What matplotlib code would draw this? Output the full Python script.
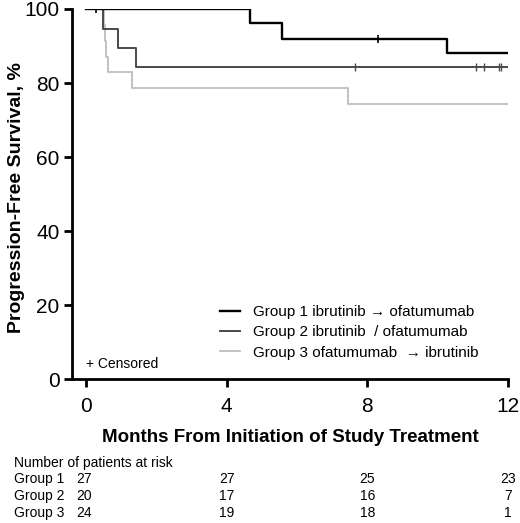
import matplotlib.pyplot as plt

plt.rcParams["font.family"] = ["Liberation Sans", "DejaVu Sans"]

# step curves: times of events and survival after each step (%)
g1_times = [0, 4.65, 5.57, 10.25, 12]
g1_surv = [100, 96.3, 92.0, 88.2, 88.2]
g1_cens_t = [0.27, 8.3]
g1_cens_s = [100, 92.0]

g2_times = [0, 0.47, 0.92, 1.42, 12]
g2_surv = [100, 94.5, 89.4, 84.3, 84.3]
g2_cens_t = [7.65, 11.1, 11.33, 11.73, 11.79]
g2_cens_s = [84.3, 84.3, 84.3, 84.3, 84.3]

g3_times = [0, 0.5, 0.53, 0.57, 0.62, 1.3, 7.46, 12]
g3_surv = [100, 95.8, 91.4, 87.0, 83.0, 78.6, 74.2, 74.2]

labels = ["Group 1 ibrutinib \u2192 ofatumumab",
          "Group 2 ibrutinib  / ofatumumab",
          "Group 3 ofatumumab  \u2192 ibrutinib"]
colors = ["#000000", "#4a4a4a", "#bdbdbd"]

risk_times = [4, 8, 12]
risk_groups = ["Group 1", "Group 2", "Group 3"]
risk_start = [27, 20, 24]
risk_counts = [[27, 25, 23], [17, 16, 7], [19, 18, 1]]

fig = plt.figure(figsize=(5.2, 5.23), dpi=100)
ax = fig.add_axes([0.1385, 0.2753, 0.8385, 0.7075])

ax.step(g3_times, g3_surv, where="post", color=colors[2], lw=1.3, label=labels[2])
ax.step(g2_times, g2_surv, where="post", color=colors[1], lw=1.4, label=labels[1])
ax.step(g1_times, g1_surv, where="post", color=colors[0], lw=1.7, label=labels[0])
ax.plot(g1_cens_t, g1_cens_s, ls="none", marker="|", ms=6, mew=1.2, color=colors[0])
ax.plot(g2_cens_t, g2_cens_s, ls="none", marker="|", ms=6, mew=1.0, color=colors[1])

ax.set_xlim(-0.4, 12)
ax.set_ylim(0, 100)
ax.set_xticks([0, 4, 8, 12])
ax.set_yticks([0, 20, 40, 60, 80, 100])
ax.spines["top"].set_visible(False)
ax.spines["right"].set_visible(False)
for s in ["left", "bottom"]:
    ax.spines[s].set_linewidth(2)
ax.tick_params(length=6, width=2, labelsize=15)
ax.tick_params(axis="x", pad=7)
ax.tick_params(axis="y", pad=3)
ax.set_xlabel("Months From Initiation of Study Treatment", fontsize=13.5,
              fontweight="bold", labelpad=9)
ax.set_ylabel("Progression-Free Survival, %", fontsize=14, fontweight="bold")
ax.yaxis.set_label_coords(-0.108, 0.49)

handles, labs = ax.get_legend_handles_labels()
ax.legend(handles[::-1], labs[::-1], loc="upper left",
          bbox_to_anchor=(220 / 520, 1 - 305 / 523),
          bbox_transform=fig.transFigure, frameon=False, borderpad=0,
          borderaxespad=0, fontsize=11, handlelength=1.3, handletextpad=0.85,
          labelspacing=0.42)
ax.text(0.0, 4, "+ Censored", fontsize=10, va="center", ha="left")

# number at risk table
fs = 10
fig.text(14 / 520, 1 - 463 / 523, "Number of patients at risk", fontsize=fs,
         va="center", ha="left")
for i, name in enumerate(risk_groups):
    y = 1 - (479 + 17 * i) / 523
    fig.text(14 / 520, y, name, fontsize=fs, va="center", ha="left")
    fig.text(76 / 520, y, str(risk_start[i]), fontsize=fs, va="center", ha="left")
    for t, n in zip(risk_times, risk_counts[i]):
        xf = ax.transData.transform((t, 0))[0] / fig.bbox.width
        fig.text(xf, y, str(n), fontsize=fs, va="center", ha="center")

fig.savefig("out.png", dpi=100)
